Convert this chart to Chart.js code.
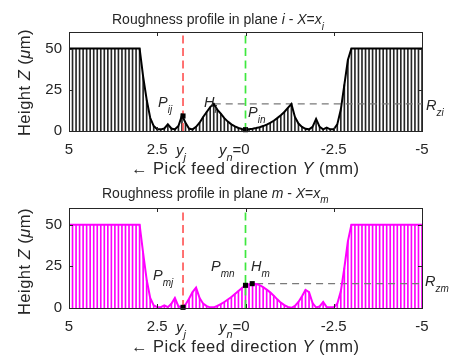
<!DOCTYPE html>
<html>
<head>
<meta charset="utf-8">
<script src="https://cdn.jsdelivr.net/npm/chart.js@4.4.1/dist/chart.umd.min.js"></script>
<style>
  body { margin: 0; background: #fff; }
  canvas { position: absolute; left: 0; }
  #planeI { top: 0; }
  #planeM { top: 180px; }
</style>
</head>
<body>
<canvas id="planeI" width="471" height="180"></canvas>
<canvas id="planeM" width="471" height="178"></canvas>
<script>
// pick feed positions Y (mm)
var yPos = [
  5.0, 4.9, 4.8, 4.7, 4.6, 4.5, 4.4, 4.3, 4.2, 4.1,
  4.0, 3.9, 3.8, 3.7, 3.6, 3.5, 3.4, 3.3, 3.2, 3.1,
  3.0, 2.9, 2.8, 2.7, 2.6, 2.5, 2.4, 2.3, 2.2, 2.1,
  2.0, 1.9, 1.8, 1.7, 1.6, 1.5, 1.4, 1.3, 1.2, 1.1,
  1.0, 0.9, 0.8, 0.7, 0.6, 0.5, 0.4, 0.3, 0.2, 0.1,
  0.0, -0.1, -0.2, -0.3, -0.4, -0.5, -0.6, -0.7, -0.8, -0.9,
  -1.0, -1.1, -1.2, -1.3, -1.4, -1.5, -1.6, -1.7, -1.8, -1.9,
  -2.0, -2.1, -2.2, -2.3, -2.4, -2.5, -2.6, -2.7, -2.8, -2.9,
  -3.0, -3.1, -3.2, -3.3, -3.4, -3.5, -3.6, -3.7, -3.8, -3.9,
  -4.0, -4.1, -4.2, -4.3, -4.4, -4.5, -4.6, -4.7, -4.8, -4.9,
  -5.0
];

// height Z (um) in plane i
var heightI = [
  50, 50, 50, 50, 50, 50, 50, 50, 50, 50,
  50, 50, 50, 50, 50, 50, 50, 50, 50, 50,
  50, 33, 19, 8, 3, 1, 1, 1.5, 4, 1.5,
  1, 3, 9.5, 5, 1.5, 1, 2.5, 5, 8.5, 11.5,
  14.5, 16.5, 13, 10.5, 7.8, 5.7, 4, 2.8, 1.8, 1.2,
  1, 1.1, 1.4, 1.8, 2.3, 3, 3.9, 4.9, 6.2, 7.8,
  9.5, 11.5, 14, 16.3, 8.5, 4.5, 2.5, 1.3, 1, 2.5,
  7.3, 2.5, 1, 2, 1, 1, 4, 13, 28, 43,
  50, 50, 50, 50, 50, 50, 50, 50, 50, 50,
  50, 50, 50, 50, 50, 50, 50, 50, 50, 50,
  50
];

// height Z (um) in plane m
var heightM = [
  50, 50, 50, 50, 50, 50, 50, 50, 50, 50,
  50, 50, 50, 50, 50, 50, 50, 50, 50, 50,
  50, 33, 17, 6, 1.5, 0.5, 0.5, 1.6, 0.5, 2.5,
  6, 1, 0.4, 2, 5.5, 9.5, 12.2, 6, 2.6, 1.1,
  0.4, 0.4, 1.2, 2.3, 3.6, 5.1, 6.6, 8.4, 10.2, 12,
  13.6, 14.2, 14.6, 14.4, 13.7, 12.5, 11, 9.4, 7.4, 5.2,
  3.2, 1.7, 0.6, 0.1, 1.2, 3.6, 7, 10.8, 9.5, 3,
  0.3, 1, 3.6, 0.5, 0.4, 0.4, 2.5, 10, 24, 40,
  50, 50, 50, 50, 50, 50, 50, 50, 50, 50,
  50, 50, 50, 50, 50, 50, 50, 50, 50, 50,
  50
];

var xTicks = [5, 2.5, 0, -2.5, -5];
var zTicks = [0, 25, 50];
var yj = 1.77;
var yn = 0;

// marked points (P_ij, P_in) and (P_mj, P_mn, H_m)
var markIy = [1.77, 0];
var markIz = [9.1, 0.8];
var markMy = [1.77, 0, -0.19];
var markMz = [0.4, 13.6, 14.6];

// Rz levels and where the dashed line starts
var rzI = 16.5, rzIfrom = 0.9;
var rzM = 14.6, rzMfrom = -0.3;

var FONT = "'Liberation Sans', Arial, Helvetica, sans-serif";
var INK = '#262626';

function rich(ctx, parts, x, y, size, align) {
  var sub = Math.round(size * 0.72);
  function fontOf(p) { return (p[1] ? 'italic ' : '') + (p[2] ? sub : size) + 'px ' + FONT; }
  var w = 0;
  parts.forEach(function(p) { ctx.font = fontOf(p); w += ctx.measureText(p[0]).width; });
  var cx = align === 'right' ? x - w : (align === 'center' ? x - w / 2 : x);
  parts.forEach(function(p) {
    ctx.font = fontOf(p);
    ctx.fillText(p[0], cx, y + (p[2] ? size * 0.42 : 0));
    cx += ctx.measureText(p[0]).width;
  });
}

function decor(cfg) {
  return {
    id: 'decor',
    afterDatasetsDraw: function(chart) {
      var ctx = chart.ctx, a = chart.chartArea, x = chart.scales.x, y = chart.scales.y;
      ctx.save();
      ctx.strokeStyle = INK;
      ctx.lineWidth = 1;
      ctx.strokeRect(Math.round(a.left) + 0.5, Math.round(a.top) + 0.5,
        Math.round(a.right - a.left), Math.round(a.bottom - a.top));
      ctx.beginPath();
      xTicks.forEach(function(v) {
        var px = Math.round(x.getPixelForValue(v)) + 0.5;
        ctx.moveTo(px, a.bottom); ctx.lineTo(px, a.bottom - 4);
        ctx.moveTo(px, a.top); ctx.lineTo(px, a.top + 4);
      });
      zTicks.forEach(function(v) {
        var py = Math.round(y.getPixelForValue(v)) + 0.5;
        ctx.moveTo(a.left, py); ctx.lineTo(a.left + 4, py);
        ctx.moveTo(a.right, py); ctx.lineTo(a.right - 4, py);
      });
      ctx.stroke();

      ctx.fillStyle = INK;
      ctx.textBaseline = 'alphabetic';
      rich(ctx, cfg.title, cfg.titleX, cfg.titleY, 14, 'left');
      cfg.notes.forEach(function(n) { rich(ctx, n.parts, n.x, n.y, 14.5, 'left'); });

      // special tick texts
      rich(ctx, [['y', 1, 0], ['j', 1, 1]], x.getPixelForValue(yj) - 7, cfg.tickBase, 15, 'left');
      ctx.font = '15px ' + FONT;
      var half = ctx.measureText('0').width / 2;
      rich(ctx, [['y', 1, 0], ['n', 1, 1], ['=', 0, 0]], x.getPixelForValue(yn) - half, cfg.tickBase, 15, 'right');

      // axis titles
      ctx.letterSpacing = '0.5px';
      rich(ctx, [['\u2190 Pick feed direction ', 0, 0], ['Y', 1, 0], [' (mm)', 0, 0]], 131, cfg.xTitleY, 16.5, 'left');
      ctx.translate(29.5, cfg.yTitleC);
      ctx.rotate(-Math.PI / 2);
      rich(ctx, [['Height ', 0, 0], ['Z', 1, 0], [' (', 0, 0], ['\u03bc', 1, 0], ['m)', 0, 0]], 0, 0, 16.5, 'center');
      ctx.restore();
    }
  };
}

function makeChart(id, heights, color, markY, markZ, rz, rzFrom, cfg) {
  var profile = yPos.map(function(v, i) { return { x: v, y: heights[i] }; });
  var marks = markY.map(function(v, i) { return { x: v, y: markZ[i] }; });
  return new Chart(document.getElementById(id), {
    type: 'line',
    data: {
      datasets: [
        { type: 'line', data: marks, showLine: false, pointStyle: 'rect', pointRadius: 3.6,
          backgroundColor: '#000', borderColor: '#000', borderWidth: 0, clip: false, order: 0 },
        { type: 'line', data: profile, borderColor: color, borderWidth: 2, pointRadius: 0,
          tension: 0, fill: false, order: 1 },
        { type: 'line', data: [{ x: rzFrom, y: rz }, { x: -5, y: rz }], borderColor: '#7a7a7a',
          borderWidth: 1.3, borderDash: [7, 5], pointRadius: 0, order: 2 },
        { type: 'line', data: [{ x: yj, y: 0 }, { x: yj, y: 60 }], borderColor: '#ff5a5a',
          borderWidth: 1.7, borderDash: [8, 4.5], pointRadius: 0, order: 2 },
        { type: 'line', data: [{ x: yn, y: 0 }, { x: yn, y: 60 }], borderColor: '#3ee83e',
          borderWidth: 1.7, borderDash: [8, 4.5], pointRadius: 0, order: 2 },
        { type: 'bar', data: profile, backgroundColor: cfg.stem, borderWidth: 0,
          barThickness: 1, order: 3 }
      ]
    },
    options: {
      responsive: false,
      devicePixelRatio: 1,
      animation: false,
      events: [],
      layout: { padding: { left: 0, right: 49, top: cfg.top, bottom: 0 } },
      plugins: { legend: { display: false }, tooltip: { enabled: false } },
      scales: {
        x: {
          type: 'linear', reverse: true, min: -5, max: 5, offset: false,
          grid: { display: false, drawTicks: false }, border: { display: false },
          afterBuildTicks: function(s) { s.ticks = xTicks.map(function(v) { return { value: v }; }); },
          afterFit: function(s) { s.height = cfg.xHeight; },
          ticks: { autoSkip: false, maxRotation: 0, padding: 10, color: INK,
            font: { family: FONT, size: 15 }, callback: function(v) { return String(v); } }
        },
        y: {
          type: 'linear', min: 0, max: 60,
          grid: { display: false, drawTicks: false }, border: { display: false },
          afterBuildTicks: function(s) { s.ticks = zTicks.map(function(v) { return { value: v }; }); },
          afterFit: function(s) { s.width = 69; },
          ticks: { padding: 7, color: INK, font: { family: FONT, size: 15 } }
        }
      }
    },
    plugins: [decor(cfg)]
  });
}

makeChart('planeI', heightI, '#000000', markIy, markIz, rzI, rzIfrom, {
  stem: 'rgba(0,0,0,0.85)', top: 32, xHeight: 49,
  title: [['Roughness profile in plane ', 0, 0], ['i', 1, 0], [' - ', 0, 0], ['X', 1, 0], ['=', 0, 0], ['x', 1, 0], ['i', 1, 1]],
  titleX: 112, titleY: 24, tickBase: 155, xTitleY: 174, yTitleC: 82.5,
  notes: [
    { parts: [['P', 1, 0], ['ij', 1, 1]], x: 158, y: 107 },
    { parts: [['H', 1, 0], ['i', 1, 1]], x: 204, y: 107 },
    { parts: [['P', 1, 0], ['in', 1, 1]], x: 248, y: 117 },
    { parts: [['R', 1, 0], ['zi', 1, 1]], x: 426, y: 110 }
  ]
});

makeChart('planeM', heightM, '#ff00ff', markMy, markMz, rzM, rzMfrom, {
  stem: '#ff00ff', top: 28, xHeight: 50,
  title: [['Roughness profile in plane ', 0, 0], ['m', 1, 0], [' - ', 0, 0], ['X', 1, 0], ['=', 0, 0], ['x', 1, 0], ['m', 1, 1]],
  titleX: 102, titleY: 17.5, tickBase: 152, xTitleY: 171.5, yTitleC: 81.5,
  notes: [
    { parts: [['P', 1, 0], ['mj', 1, 1]], x: 153, y: 100 },
    { parts: [['P', 1, 0], ['mn', 1, 1]], x: 211, y: 91 },
    { parts: [['H', 1, 0], ['m', 1, 1]], x: 251, y: 91 },
    { parts: [['R', 1, 0], ['zm', 1, 1]], x: 425, y: 106 }
  ]
});
</script>
</body>
</html>
